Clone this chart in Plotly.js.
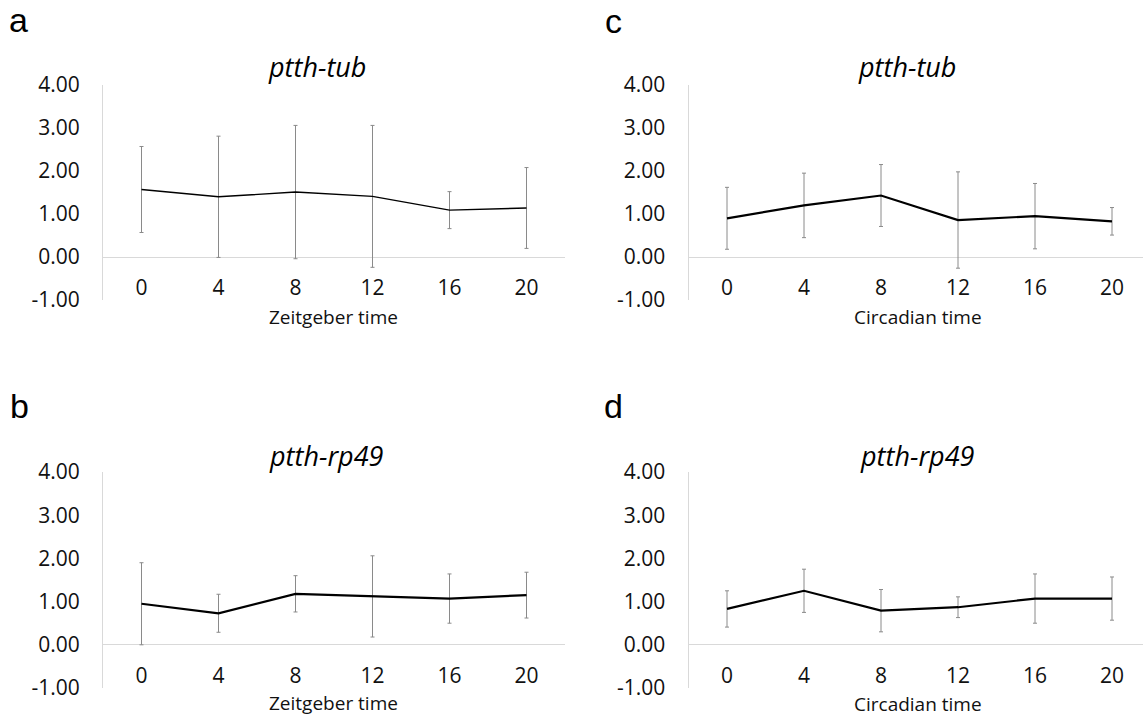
<!DOCTYPE html>
<html><head><meta charset="utf-8">
<script src="https://cdn.plot.ly/plotly-3.0.1.min.js"></script>
<style>html,body{margin:0;padding:0;background:#fff}</style>
</head><body><div id="chart" style="width:1143px;height:717px"></div>
<script>
// ---- data ----
const timePoints = ["0", "4", "8", "12", "16", "20"];
const tubZT      = [1.57, 1.40, 1.51, 1.41, 1.09, 1.14];
const tubZTErr   = [1.00, 1.41, 1.55, 1.65, 0.43, 0.94];
const rp49ZT     = [0.95, 0.73, 1.18, 1.12, 1.07, 1.15];
const rp49ZTErr  = [0.95, 0.44, 0.42, 0.94, 0.57, 0.53];
const tubCT      = [0.90, 1.20, 1.43, 0.86, 0.95, 0.83];
const tubCTErr   = [0.72, 0.75, 0.72, 1.12, 0.76, 0.32];
const rp49CT     = [0.83, 1.25, 0.79, 0.87, 1.07, 1.07];
const rp49CTErr  = [0.42, 0.50, 0.49, 0.24, 0.57, 0.50];
const yTicks     = [-1, 0, 1, 2, 3, 4];
const yTickText  = ["-1.00", "0.00", "1.00", "2.00", "3.00", "4.00"];
const panelTitles = ["ptth-tub", "ptth-rp49", "ptth-tub", "ptth-rp49"];
const xTitles     = ["Zeitgeber time", "Zeitgeber time", "Circadian time", "Circadian time"];
const panelLetters = ["a", "b", "c", "d"];

// ---- layout helpers ----
const W = 1143, H = 717;
const px = v => v / W;
const py = v => 1 - v / H;
const FONT = "Open Sans, Noto Sans, sans-serif";

function trace(y, err, xa, ya, lw) {
  return {
    x: timePoints, y: y, xaxis: xa, yaxis: ya, type: "scatter", mode: "lines",
    line: {color: "#000000", width: lw},
    error_y: {type: "data", array: err, visible: true, color: "#8a8a8a", thickness: 1, width: 2},
    hoverinfo: "skip", showlegend: false
  };
}

const data = [
  trace(tubZT, tubZTErr, "x", "y", 1.4),
  trace(tubCT, tubCTErr, "x2", "y2", 2.2),
  trace(rp49ZT, rp49ZTErr, "x3", "y3", 2.2),
  trace(rp49CT, rp49CTErr, "x4", "y4", 2.2)
];

function xax(dom, anchor, rangeEnd) {
  return {
    domain: dom, anchor: anchor, type: "category",
    categoryorder: "array", categoryarray: timePoints,
    range: [-0.5, rangeEnd], showgrid: false, zeroline: false, showline: false,
    ticks: "", ticklabelstandoff: -27,
    tickfont: {family: FONT, size: 21, color: "#111"}, fixedrange: true
  };
}
function yax(dom, anchor) {
  return {
    domain: dom, anchor: anchor, range: [-1, 4], tickmode: "array",
    tickvals: yTicks, ticktext: yTickText,
    showgrid: false, showline: true, linecolor: "#d9d9d9", linewidth: 1,
    zeroline: true, zerolinecolor: "#d9d9d9", zerolinewidth: 1,
    ticks: "outside", ticklen: 18, tickcolor: "rgba(0,0,0,0)",
    tickfont: {family: FONT, size: 21, color: "#111"}, fixedrange: true
  };
}

const leftX = [px(103), px(565)];
const rightX = [px(688.5), 1];
const rightEnd = -0.5 + (W - 688.5) / 77;
const topY = [py(300), py(85)];
const botY = [py(688), py(472)];

const annotations = [];
// panel titles (italic)
const titlePos = [[316.5, 67], [326.5, 455.5], [906.5, 67], [917.5, 455.5]];
titlePos.forEach((p, i) => annotations.push({
  xref: "paper", yref: "paper", x: px(p[0]), y: py(p[1]), xanchor: "center", yanchor: "middle",
  text: "<i>" + panelTitles[i] + "</i>", showarrow: false,
  font: {family: FONT, size: 27, color: "#000"}
}));
// x-axis titles
const xtPos = [[333, 317], [333, 703], [918, 317], [918, 704]];
xtPos.forEach((p, i) => annotations.push({
  xref: "paper", yref: "paper", x: px(p[0]), y: py(p[1]), xanchor: "center", yanchor: "middle",
  text: xTitles[i], showarrow: false, font: {family: FONT, size: 19, color: "#111"}
}));
// panel letters
const letterPos = [[18.5, 20], [19, 406], [613.5, 21], [613, 406]];
letterPos.forEach((p, i) => annotations.push({
  xref: "paper", yref: "paper", x: px(p[0]), y: py(p[1]), xanchor: "center", yanchor: "middle",
  text: panelLetters[i], showarrow: false,
  font: {family: "Liberation Sans, Arial, sans-serif", size: 34, color: "#000"}
}));

const layout = {
  width: W, height: H, margin: {l: 0, r: 0, t: 0, b: 0},
  paper_bgcolor: "#ffffff", plot_bgcolor: "#ffffff", showlegend: false,
  xaxis: xax(leftX, "y", 5.5),   yaxis: yax(topY, "x"),
  xaxis2: xax(rightX, "y2", rightEnd), yaxis2: yax(topY, "x2"),
  xaxis3: xax(leftX, "y3", 5.5), yaxis3: yax(botY, "x3"),
  xaxis4: xax(rightX, "y4", rightEnd), yaxis4: yax(botY, "x4"),
  annotations: annotations
};

Plotly.newPlot("chart", data, layout, {staticPlot: true, displayModeBar: false});
</script>
</body></html>
